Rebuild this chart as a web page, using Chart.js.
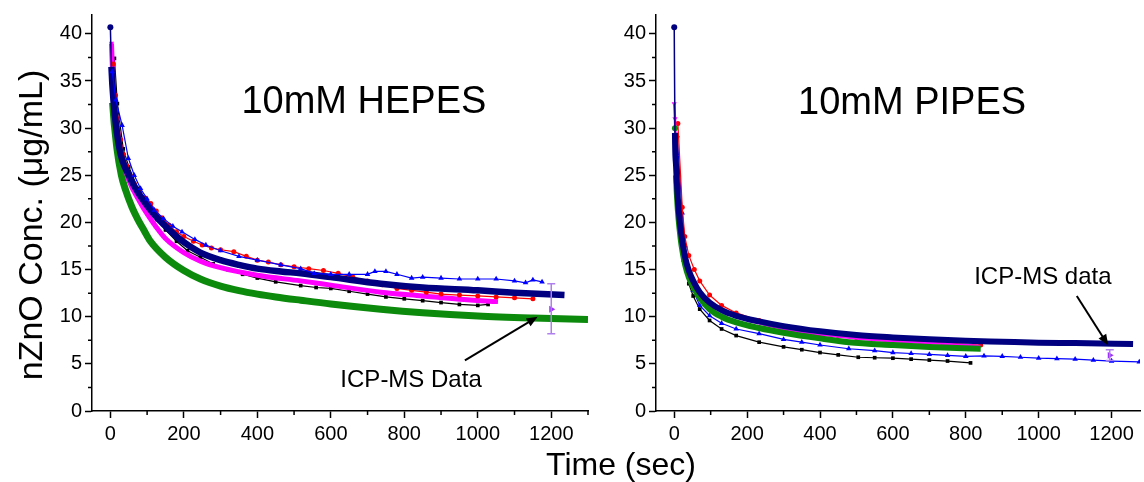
<!DOCTYPE html>
<html>
<head>
<meta charset="utf-8">
<script src="https://cdn.jsdelivr.net/npm/chart.js@4.4.1/dist/chart.umd.min.js"></script>
<style>
  body { margin: 0; background: #fff; width: 1144px; height: 482px; overflow: hidden; position: relative;
         font-family: "Liberation Sans", Arial, sans-serif; color: #000; }
  #left { position: absolute; left: 0; top: 0; }
  #right { position: absolute; left: 600px; top: 0; }
  .ytitle { position: absolute; left: -170.5px; top: 207px; width: 400px; height: 36px; line-height: 36px;
            text-align: center; font-size: 34px; transform: rotate(-90deg); white-space: nowrap; }
  .xtitle { position: absolute; left: 421px; top: 448px; width: 400px; line-height: 32px;
            text-align: center; font-size: 32px; white-space: nowrap; }
</style>
</head>
<body>
<canvas id="left" width="600" height="482"></canvas>
<canvas id="right" width="544" height="482"></canvas>
<div class="ytitle">nZnO Conc. (μg/mL)</div>
<div class="xtitle">Time (sec)</div>
<script>
// ---- 10mM HEPES ----
const hepesBlackT = [11,19,35,50,75,105,127,150,180,210,245,280,320,360,400,450,518,560,600,650,700,750,800,850,900,950,1000,1028];
const hepesBlackY = [37.4,32.6,27.8,25.9,23.6,21.8,20.3,19.2,18.0,17.0,16.3,15.6,15.0,14.5,14.1,13.7,13.3,13.1,13.0,12.7,12.4,12.1,11.9,11.7,11.5,11.3,11.2,11.3];
const hepesRedT = [8,14,20,28,36,45,55,65,80,95,110,125,140,160,180,200,226,250,275,300,336,370,400,430,464,500,540,580,620,660,700,740,780,820,860,900,950,1000,1050,1100,1150];
const hepesRedY = [36.8,33.5,31.0,28.8,27.2,26.0,24.9,24.1,23.2,22.6,22.0,21.2,20.5,19.7,19.0,18.5,18.0,17.6,17.3,17.1,16.9,16.4,16.0,15.8,15.5,15.3,15.1,14.9,14.6,14.2,13.8,13.4,13.0,12.8,12.6,12.4,12.3,12.2,12.1,12.0,11.9];
const hepesBlueT = [5,15,32,49,65,82,100,120,145,170,195,230,260,300,350,400,464,518,555,600,650,700,720,750,780,820,850,900,950,1000,1050,1100,1130,1150,1175];
const hepesBlueY = [36.0,33.0,30.3,26.8,25.0,23.6,22.5,21.3,20.4,19.6,19.0,18.2,17.6,17.0,16.4,16.0,15.5,15.1,14.6,14.5,14.5,14.5,14.8,14.8,14.5,14.1,14.2,14.1,14.0,14.0,14.0,13.8,13.6,13.9,13.7];
const hepesMagentaT = [3,6,11,27,50,80,100,125,150,200,245,300,400,518,600,736,850,950,1055];
const hepesMagentaY = [39.0,36.0,32.7,27.8,24.5,22.2,20.9,19.5,18.3,16.8,15.9,15.2,14.4,13.8,13.35,12.6,12.2,11.85,11.6];
const hepesNavyT = [0,3,9,25,50,75,100,125,150,175,200,245,300,350,400,464,518,600,736,850,1000,1100,1236];
const hepesNavyY = [40.7,36.5,32.7,27.8,25.0,23.2,21.8,20.6,19.6,18.7,17.9,16.8,16.0,15.5,15.1,14.8,14.6,14.2,13.5,13.1,12.8,12.55,12.3];
const hepesGreenT = [2,6,18,30,40,59,75,91,109,150,200,245,300,350,400,450,518,600,736,850,1000,1150,1300];
const hepesGreenY = [36.0,32.7,27.8,25.0,23.6,21.6,20.3,19.2,18.0,16.3,14.9,14.0,13.25,12.77,12.4,12.1,11.75,11.35,10.8,10.43,10.08,9.86,9.7];
const hepesErrT = [1200];
const hepesErrY = [10.8];
const hepesErrLo = [8.2];
const hepesErrHi = [13.5];

// ---- 10mM PIPES ----
const pipesBlackT = [3,8,15,25,40,52,70,97,130,170,233,300,350,400,450,505,550,600,650,700,750,813];
const pipesBlackY = [29.0,24.0,19.0,16.0,13.5,12.2,10.8,9.6,8.7,8.0,7.3,6.8,6.5,6.2,5.95,5.7,5.65,5.6,5.5,5.4,5.3,5.1];
const pipesRedT = [10,22,29,40,55,70,97,130,170,233,300,350,400,450,500,550,600,650,700,770,841];
const pipesRedY = [30.5,21.6,18.5,16.5,15.0,13.8,12.3,11.2,10.4,9.6,9.0,8.6,8.2,8.0,7.8,7.65,7.5,7.4,7.3,7.15,7.0];
const pipesBlueT = [8,22,30,40,52,70,97,130,170,233,300,350,400,479,550,600,650,700,750,800,850,900,950,1000,1050,1100,1150,1200,1276];
const pipesBlueY = [29.2,21.0,17.5,15.0,12.8,11.2,10.1,9.3,8.7,8.2,7.6,7.3,7.0,6.6,6.4,6.2,6.1,6.0,5.9,5.8,5.85,5.8,5.7,5.6,5.55,5.5,5.4,5.3,5.2];
const pipesMagentaT = [0,2,5,10,20,30,40,52,70,97,130,170,233,300,400,500,600,700,840];
const pipesMagentaY = [32.6,31.0,27.0,22.5,18.5,16.3,14.9,13.9,12.6,11.4,10.6,10.0,9.3,8.7,8.1,7.7,7.4,7.2,6.9];
const pipesNavyT = [0,2,5,10,15,20,30,40,52,70,97,130,170,233,300,400,500,600,700,800,900,1000,1100,1259];
const pipesNavyY = [40.7,29.5,26.0,22.5,20.2,18.6,16.3,14.9,13.8,12.6,11.5,10.7,10.1,9.5,9.0,8.45,8.05,7.8,7.6,7.45,7.35,7.25,7.2,7.1];
const pipesGreenT = [2,5,10,15,20,30,40,52,70,97,130,170,233,300,400,479,600,700,841];
const pipesGreenY = [30.0,25.0,21.3,19.2,17.6,15.5,14.2,13.2,12.0,10.8,10.0,9.4,8.8,8.3,7.7,7.3,7.0,6.8,6.6];
const pipesErrT = [1195];
const pipesErrY = [5.9];
const pipesErrLo = [5.35];
const pipesErrHi = [6.5];

const FONT = '"Liberation Sans", Arial, sans-serif';

function pts(t, y) {
  return t.map((v, i) => ({ x: v, y: y[i] }));
}

function marks(t, y, color, style, r, rot) {
  return {
    data: pts(t, y), showLine: true, borderColor: color, backgroundColor: color, borderWidth: 1.2,
    pointStyle: style, pointRadius: r, pointRotation: rot || 0, pointBorderWidth: 0, pointBorderColor: color
  };
}

// dense series that read as thick bands; a thin first segment when it starts with a spike
function band(t, y, color, w, startMarks, style) {
  return {
    data: pts(t, y), showLine: true, borderColor: color, backgroundColor: color, borderWidth: w,
    cubicInterpolationMode: 'monotone', pointStyle: style || 'circle', pointRotation: style === 'triangle' ? 180 : 0,
    pointRadius: c => c.dataIndex < startMarks ? 3 : 0, pointBorderWidth: 0,
    segment: { borderWidth: c => (c.p0DataIndex === 0 && y[0] - y[1] > 3) ? 1.5 : w }
  };
}

function errSet(t, y, lo, hi) {
  return {
    data: pts(t, y), showLine: false, pointStyle: 'triangle', pointRotation: 90, pointRadius: 4,
    backgroundColor: '#9b30ff', pointBorderWidth: 0, errLo: lo, errHi: hi
  };
}

const extras = {
  id: 'extras',
  afterDatasetsDraw(chart, args, o) {
    const { ctx } = chart, xs = chart.scales.x, ys = chart.scales.y;
    chart.data.datasets.forEach(ds => {
      if (!ds.errLo) return;
      ctx.save();
      ctx.strokeStyle = '#b07fee';
      ctx.lineWidth = 1.5;
      ds.data.forEach((p, i) => {
        const x = xs.getPixelForValue(p.x);
        const lo = ys.getPixelForValue(ds.errLo[i]), hi = ys.getPixelForValue(ds.errHi[i]);
        ctx.beginPath();
        ctx.moveTo(x, lo); ctx.lineTo(x, hi);
        ctx.moveTo(x - 4, lo); ctx.lineTo(x + 4, lo);
        ctx.moveTo(x - 4, hi); ctx.lineTo(x + 4, hi);
        ctx.stroke();
      });
      ctx.restore();
    });
  },
  afterDraw(chart, args, o) {
    const { ctx, chartArea: a } = chart, xs = chart.scales.x, ys = chart.scales.y;
    ctx.save();
    // minor ticks
    ctx.strokeStyle = '#000';
    ctx.lineWidth = 1.5;
    ctx.beginPath();
    xs.ticks.forEach(t => {
      if (Math.abs(t.value % 200) > 1e-6) {
        const x = xs.getPixelForValue(t.value);
        ctx.moveTo(x, a.bottom); ctx.lineTo(x, a.bottom + 4);
      }
    });
    ys.ticks.forEach(t => {
      if (Math.abs(t.value % 5) > 1e-6) {
        const y = ys.getPixelForValue(t.value);
        ctx.moveTo(a.left, y); ctx.lineTo(a.left - 4, y);
      }
    });
    ctx.stroke();
    // panel title
    ctx.fillStyle = '#000';
    ctx.textBaseline = 'alphabetic';
    ctx.textAlign = 'center';
    ctx.font = '38px ' + FONT;
    ctx.fillText(o.title, xs.getPixelForValue(o.titleAt[0]), ys.getPixelForValue(o.titleAt[1]));
    // note + arrow
    ctx.textAlign = 'left';
    ctx.font = '24px ' + FONT;
    ctx.fillText(o.note, xs.getPixelForValue(o.noteAt[0]), ys.getPixelForValue(o.noteAt[1]));
    const x1 = xs.getPixelForValue(o.arrow[0]), y1 = ys.getPixelForValue(o.arrow[1]);
    const x2 = xs.getPixelForValue(o.arrow[2]), y2 = ys.getPixelForValue(o.arrow[3]);
    const ang = Math.atan2(y2 - y1, x2 - x1);
    ctx.lineWidth = 2;
    ctx.beginPath();
    ctx.moveTo(x1, y1);
    ctx.lineTo(x2 - 8 * Math.cos(ang), y2 - 8 * Math.sin(ang));
    ctx.stroke();
    ctx.beginPath();
    ctx.moveTo(x2, y2);
    ctx.lineTo(x2 - 11 * Math.cos(ang) + 4.5 * Math.sin(ang), y2 - 11 * Math.sin(ang) - 4.5 * Math.cos(ang));
    ctx.lineTo(x2 - 11 * Math.cos(ang) - 4.5 * Math.sin(ang), y2 - 11 * Math.sin(ang) + 4.5 * Math.cos(ang));
    ctx.closePath();
    ctx.fill();
    ctx.restore();
  }
};

function makeChart(id, xMax, yWidth, padRight, datasets, notes) {
  return new Chart(document.getElementById(id), {
    type: 'scatter',
    data: { datasets: datasets },
    plugins: [extras],
    options: {
      responsive: false,
      animation: false,
      layout: { padding: { top: 12, right: padRight, left: 0, bottom: 0 } },
      plugins: { legend: { display: false }, tooltip: { enabled: false }, extras: notes },
      scales: {
        x: {
          type: 'linear', min: -50, max: xMax,
          afterFit: s => { s.height = 71; },
          ticks: {
            stepSize: 100, includeBounds: false, autoSkip: false, maxRotation: 0, padding: 4,
            color: '#000', font: { size: 20, family: FONT },
            callback: v => (v % 200 === 0 ? v : '')
          },
          grid: {
            drawOnChartArea: false, tickLength: 7, tickWidth: 1.5,
            tickColor: c => (c.tick && c.tick.value % 200 === 0 ? '#000' : 'rgba(0,0,0,0)')
          },
          border: { color: '#000', width: 1.5 }
        },
        y: {
          min: 0, max: 42,
          afterFit: s => { s.width = yWidth; },
          ticks: {
            stepSize: 2.5, includeBounds: false, autoSkip: false, padding: 3,
            color: '#000', font: { size: 20, family: FONT },
            callback: v => (v % 5 === 0 ? v : '')
          },
          grid: {
            drawOnChartArea: false, tickLength: 7, tickWidth: 1.5,
            tickColor: c => (c.tick && c.tick.value % 5 === 0 ? '#000' : 'rgba(0,0,0,0)')
          },
          border: { color: '#000', width: 1.5 }
        }
      }
    }
  });
}

// first dataset is drawn on top
makeChart('left', 1300, 92, 12, [
  errSet(hepesErrT, hepesErrY, hepesErrLo, hepesErrHi),
  marks(hepesBlueT, hepesBlueY, '#0000ff', 'triangle', 3.2),
  band(hepesNavyT, hepesNavyY, '#000080', 6.5, 1),
  marks(hepesRedT, hepesRedY, '#ff0000', 'circle', 2.5),
  band(hepesMagentaT, hepesMagentaY, '#ff00ff', 5, 1, 'triangle'),
  marks(hepesBlackT, hepesBlackY, '#000000', 'rect', 2.6),
  band(hepesGreenT, hepesGreenY, '#0c8a0c', 7, 0)
], {
  title: '10mM HEPES', titleAt: [690, 31.6],
  note: 'ICP-MS Data', noteAt: [626, 2.5],
  arrow: [965, 5.37, 1163, 10.0]
});

makeChart('right', 1278, 56, 0, [
  errSet(pipesErrT, pipesErrY, pipesErrLo, pipesErrHi),
  band(pipesNavyT, pipesNavyY, '#000080', 6, 1),
  band(pipesGreenT, pipesGreenY, '#0c8a0c', 6, 1),
  band(pipesMagentaT, pipesMagentaY, '#ff00ff', 2.5, 3, 'triangle'),
  marks(pipesRedT, pipesRedY, '#ff0000', 'circle', 2.5),
  marks(pipesBlueT, pipesBlueY, '#0000ff', 'triangle', 3.2),
  marks(pipesBlackT, pipesBlackY, '#000000', 'rect', 2.6)
], {
  title: '10mM PIPES', titleAt: [652.6, 31.5],
  note: 'ICP-MS data', noteAt: [823, 13.45],
  arrow: [1104.6, 12.2, 1191, 6.95]
});
</script>
</body>
</html>
